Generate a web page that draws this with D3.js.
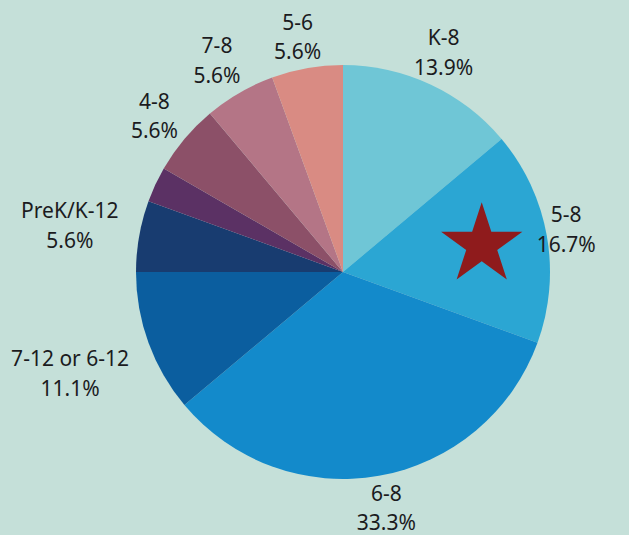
<!DOCTYPE html>
<html lang="en">
<head>
<meta charset="UTF-8">
<title>Grade configurations</title>
<script src="https://d3js.org/d3.v7.min.js"></script>
<style>
  body { margin: 0; background: #c5e0d9; }
  text { font-family: "Noto Sans", sans-serif; fill: #1b1b1e; }
</style>
</head>
<body>
<div class="chart"></div>
<script>
// grade spans, clockwise from 12 o'clock
const grades = ["K-8", "5-8", "6-8", "7-12 or 6-12", "PreK/K-12", "", "4-8", "7-8", "5-6"];
const schools = [5, 6, 12, 4, 2, 1, 2, 2, 2];
const shares = ["13.9%", "16.7%", "33.3%", "11.1%", "5.6%", "", "5.6%", "5.6%", "5.6%"];
const colors = ["#6fc6d6", "#2ba6d3", "#138acb", "#0b5e9f", "#183c70", "#5b3164", "#8c5068", "#b47586", "#d98b83"];

const width = 629, height = 535;
const cx = 343, cy = 272, r = 207;

// hand nudges so labels sit where the original put them
const nudge = {
  "K-8": [-5, 4], "5-8": [-23, -2], "6-8": [0, -13], "7-12 or 6-12": [-38, 13],
  "PreK/K-12": [-27, -6], "4-8": [3, 2], "7-8": [-1, 2], "5-6": [-2, 8]
};

const data = grades.map((g, i) => ({grade: g, n: schools[i], share: shares[i], color: colors[i]}));

const svg = d3.select(".chart").append("svg")
  .attr("width", width)
  .attr("height", height);

const g = svg.append("g").attr("transform", `translate(${cx},${cy})`);

const pie = d3.pie().sort(null).value(d => d.n);
const arc = d3.arc().innerRadius(0).outerRadius(r);
const labelArc = d3.arc().innerRadius(250).outerRadius(250);

const arcs = pie(data);

g.selectAll("path")
  .data(arcs)
  .join("path")
  .attr("d", arc)
  .attr("fill", d => d.data.color);

// star marks the 5-8 slice
const star = arcs[1];
const starPos = d3.arc().innerRadius(150).outerRadius(150).centroid(star);
g.append("path")
  .attr("d", d3.symbol(d3.symbolStar, 2050)())
  .attr("transform", `translate(${starPos[0] - 9},${starPos[1] - 1})`)
  .attr("fill", "#8f1b1c");

const labels = g.selectAll(".lbl")
  .data(arcs.filter(d => d.data.grade !== ""))
  .join("text")
  .attr("class", "lbl")
  .attr("text-anchor", "middle")
  .attr("font-size", 21)
  .attr("transform", d => {
    const [x, y] = labelArc.centroid(d);
    const [dx, dy] = nudge[d.data.grade] || [0, 0];
    return `translate(${x + dx},${y + dy})`;
  });

labels.append("tspan").attr("x", 0).attr("dy", "-0.2em").text(d => d.data.grade);
labels.append("tspan").attr("x", 0).attr("dy", "1.4em").text(d => d.data.share);
</script>
</body>
</html>
